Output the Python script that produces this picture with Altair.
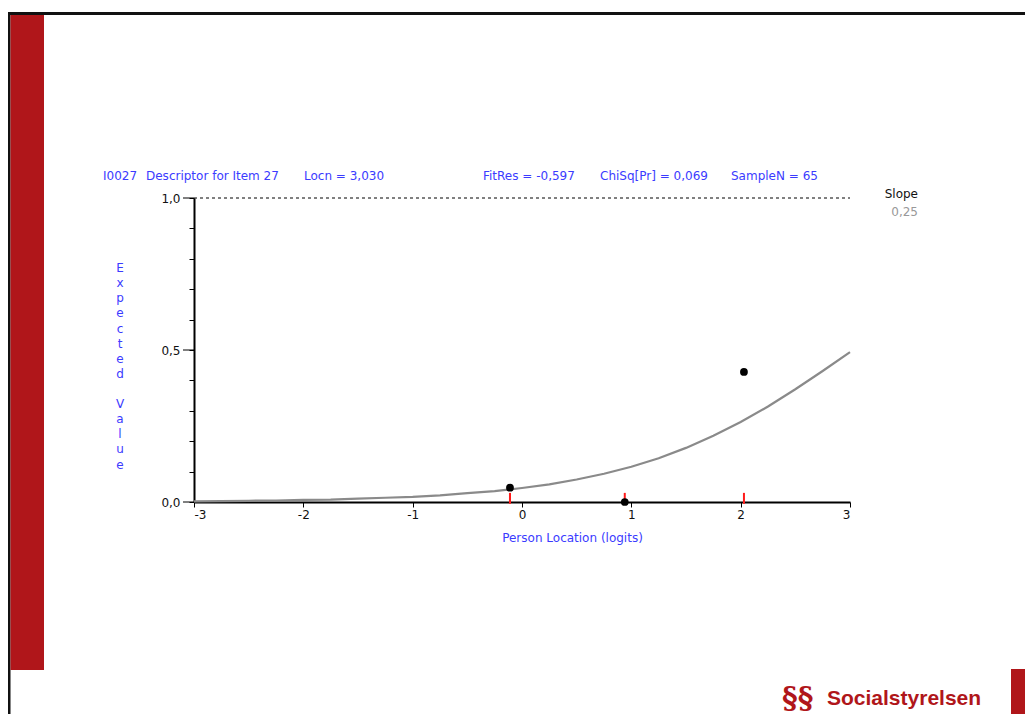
import altair as alt
import pandas as pd

# ---- data ----
curve_x = [-3.0, -2.75, -2.5, -2.25, -2.0, -1.75, -1.5, -1.25, -1.0, -0.75, -0.5, -0.25,
           0.0, 0.25, 0.5, 0.75, 1.0, 1.25, 1.5, 1.75, 2.0, 2.25, 2.5, 2.75, 3.0]
curve_y = [0.002, 0.003, 0.004, 0.005, 0.007, 0.008, 0.011, 0.014, 0.017, 0.022, 0.029, 0.036,
           0.046, 0.058, 0.074, 0.093, 0.116, 0.144, 0.178, 0.218, 0.263, 0.314, 0.371, 0.431, 0.493]
obs_x = [-0.11, 0.94, 2.03]
obs_y = [0.047, 0.0, 0.428]
x_ticks = [-3, -2, -1, 0, 1, 2, 3]
y_minor_ticks = [0.0, 0.1, 0.2, 0.3, 0.4, 0.5, 0.6, 0.7, 0.8, 0.9, 1.0]
y_major_ticks = [0.0, 0.5, 1.0]
header_left = ["I0027", "Descriptor for Item 27", "Locn = 3,030"]
header_right = ["FitRes = -0,597", "ChiSq[Pr] = 0,069", "SampleN = 65"]
slope_label = "Slope"
slope_value = "0,25"
y_title_1 = list("Expected")
y_title_2 = list("Value")
x_title = "Person Location (logits)"
logo_text = "Socialstyrelsen"

BLUE = "#3b3bff"
RED = "#b0161a"
FONT = "DejaVu Sans"

curve_df = pd.DataFrame({"x": curve_x, "y": curve_y})
obs_df = pd.DataFrame({"x": obs_x, "y": obs_y})
ref_df = pd.DataFrame({"x": obs_x, "y": [0.03] * 3, "y2": [-0.006] * 3})
top_df = pd.DataFrame({"x": [x_ticks[0]], "x2": [x_ticks[-1]], "y": [1.0]})
major_df = pd.DataFrame({"y": y_major_ticks})

xscale = alt.Scale(domain=[-3, 3], nice=False, zero=False)
yscale = alt.Scale(domain=[0, 1], nice=False, zero=False)

major = "(abs(datum.value) < 0.001 || abs(datum.value - 0.5) < 0.001 || abs(datum.value - 1) < 0.001)"
y_label_expr = major + " ? replace(format(datum.value, '.1f'), '.', ',') : ''"

xaxis = alt.Axis(values=x_ticks, labelExpr="datum.value + ''", title=x_title,
                 domainColor="black", domainWidth=2, tickColor="black", tickSize=5,
                 labelColor="#111", labelFont=FONT, labelFontSize=12, labelPadding=2,
                 labelOverlap=False,
                 titleColor=BLUE, titleFont=FONT, titleFontSize=12, titleFontWeight="normal",
                 titleX=378, titleY=39, titleBaseline="alphabetic", titleAlign="center",
                 grid=False)
yaxis = alt.Axis(values=y_minor_ticks, labelExpr=y_label_expr, title=None,
                 domainColor="black", domainWidth=2, tickColor="black", tickSize=5,
                 labelColor="#111", labelFont=FONT, labelFontSize=12, labelPadding=9,
                 labelOverlap=False, grid=False)

curve = alt.Chart(curve_df).mark_line(color="#8a8a8a", strokeWidth=2.2).encode(
    x=alt.X("x:Q", scale=xscale, axis=xaxis),
    y=alt.Y("y:Q", scale=yscale, axis=yaxis),
)

major_ticks = alt.Chart(major_df).mark_rule(color="black", strokeWidth=1).encode(
    x=alt.value(-11), x2=alt.value(0), y=alt.Y("y:Q", axis=yaxis)
)

top_rule = alt.Chart(top_df).mark_rule(color="black", strokeWidth=1, strokeDash=[3, 3]).encode(
    x=alt.X("x:Q", axis=xaxis), x2="x2:Q", y=alt.Y("y:Q", axis=yaxis)
)

red_ticks = alt.Chart(ref_df).mark_rule(color="#ff1a1a", strokeWidth=2).encode(
    x=alt.X("x:Q", axis=xaxis), y=alt.Y("y:Q", axis=yaxis), y2="y2:Q"
)

points = alt.Chart(obs_df).mark_circle(color="black", opacity=1, size=60).encode(
    x=alt.X("x:Q", axis=xaxis), y=alt.Y("y:Q", axis=yaxis)
)

one = alt.Data(values=[{"k": 1}])


def rect(x1, x2, y1, y2, color):
    return alt.Chart(one).mark_rect(color=color).encode(
        x=alt.value(x1), x2=alt.value(x2), y=alt.value(y1), y2=alt.value(y2)
    )


def label(text, x, y, color, align="left", size=12, font=FONT, weight="normal",
          baseline="alphabetic", line_height=None):
    kw = dict(text=text, color=color, align=align, baseline=baseline,
              fontSize=size, font=font, fontWeight=weight)
    if line_height is not None:
        kw["lineHeight"] = line_height
    return alt.Chart(one).mark_text(**kw).encode(x=alt.value(x), y=alt.value(y))


decor = [
    rect(-186, -183.5, -186, 516, "#111"),   # left border
    rect(-186, 831, -186, -183, "#111"),      # top border
    rect(-183.5, -150, -183, 472, RED),       # red side bar
    rect(817, 831, 471, 516, RED),            # bottom red square
]

texts = [
    label(header_left[0], -91, -18, BLUE),
    label(header_left[1], -48, -18, BLUE),
    label(header_left[2], 110, -18, BLUE),
    label(header_right[0], 289, -18, BLUE),
    label(header_right[1], 406, -18, BLUE),
    label(header_right[2], 537, -18, BLUE),
    label(slope_label, 724, 0, "#111", align="right"),
    label(slope_value, 724, 17.7, "#999999", align="right"),
    label(y_title_1, -74, 65, BLUE, align="center", baseline="top", line_height=15.15),
    label(y_title_2, -74, 201, BLUE, align="center", baseline="top", line_height=15.15),
    label(logo_text, 633, 507, RED, size=21, font="Liberation Sans", weight="bold"),
    label("\u00a7\u00a7", 588, 510, RED, size=30, font="DejaVu Serif", weight="bold"),
]

chart = alt.layer(*decor, curve, major_ticks, top_rule, red_ticks, points, *texts).properties(
    width=656, height=304,
    autosize=alt.AutoSizeParams(type="none"),
    padding={"left": 186, "top": 190, "right": 175, "bottom": 212},
    background="white",
).configure_view(strokeWidth=0)

chart.save("out.html", embed_options={"renderer": "svg", "actions": False})
